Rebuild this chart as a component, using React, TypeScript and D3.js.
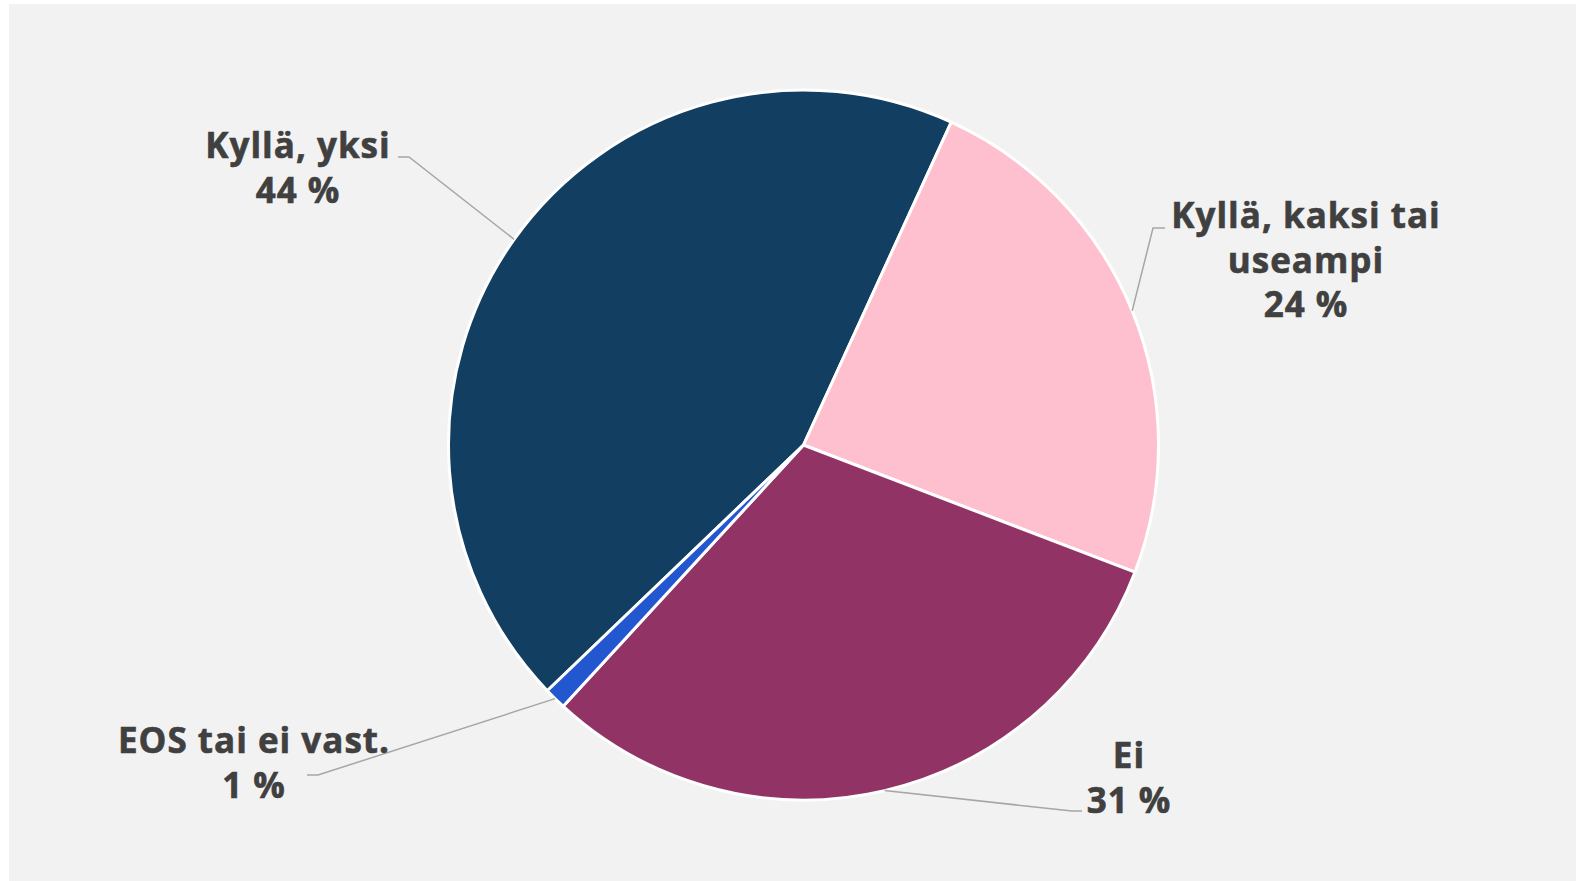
import React from "react";
import * as d3 from "d3";

// data
const categories = ["Kyllä, yksi", "Kyllä, kaksi tai useampi", "Ei", "EOS tai ei vast."];
const values = [44, 24, 31, 1];
const labelLines = [
  ["Kyllä, yksi", "44 %"],
  ["Kyllä, kaksi tai", "useampi", "24 %"],
  ["Ei", "31 %"],
  ["EOS tai ei vast.", "1 %"],
];
const colors = ["#123F61", "#FEC0CF", "#923366", "#2357CF"];

// label layout (center x, first baseline, leader attach point, elbow)
const labelLayout = [
  { x: 298, y: 158, ax: 398, ay: 157, ex: 409 },
  { x: 1306, y: 228, ax: 1165, ay: 228, ex: 1153 },
  { x: 1129, y: 768, ax: 1082, ay: 811, ex: 1072 },
  { x: 254, y: 753, ax: 307, ay: 775, ex: 318 },
];

const W = 1576;
const H = 881;
const cx = 803.5;
const cy = 445;
const R = 355;
const startDeg = 226.2;
const lineH = 44.5;

export default function App() {
  const data = categories.map((c, i) => ({ name: c, value: values[i], i }));
  const start = (startDeg * Math.PI) / 180;
  const pie = d3
    .pie<any>()
    .sort(null)
    .value((d) => d.value)
    .startAngle(start)
    .endAngle(start + 2 * Math.PI);
  const arcs = pie(data);
  const arc = d3.arc<any>().innerRadius(0).outerRadius(R);

  return (
    <svg
      width={W}
      height={H}
      style={{ position: "absolute", left: 0, top: 0 }}
      fontFamily="'Open Sans', sans-serif"
    >
      <rect x={9} y={4} width={W - 9} height={H - 4} fill="#F2F2F2" />
      <g transform={`translate(${cx},${cy})`}>
        {arcs.map((a) => (
          <path
            key={a.data.name}
            d={arc(a) as string}
            fill={colors[a.data.i]}
            stroke="#fff"
            strokeWidth={3}
            strokeLinejoin="round"
          />
        ))}
      </g>
      {arcs.map((a, i) => {
        const mid = (a.startAngle + a.endAngle) / 2;
        const px = cx + R * Math.sin(mid);
        const py = cy - R * Math.cos(mid);
        const L = labelLayout[i];
        return (
          <g key={"lbl" + i}>
            <polyline
              points={`${L.ax},${L.ay} ${L.ex},${L.ay} ${px},${py}`}
              fill="none"
              stroke="#A6A6A6"
              strokeWidth={1.5}
            />
            <text
              x={L.x}
              y={L.y}
              textAnchor="middle"
              fontSize={35}
              fontWeight={700}
              letterSpacing={1}
              fill="#404040"
              stroke="#404040"
              strokeWidth={0.6}
            >
              {labelLines[i].map((t, j) => (
                <tspan key={j} x={L.x} y={L.y + j * lineH}>
                  {t}
                </tspan>
              ))}
            </text>
          </g>
        );
      })}
    </svg>
  );
}
